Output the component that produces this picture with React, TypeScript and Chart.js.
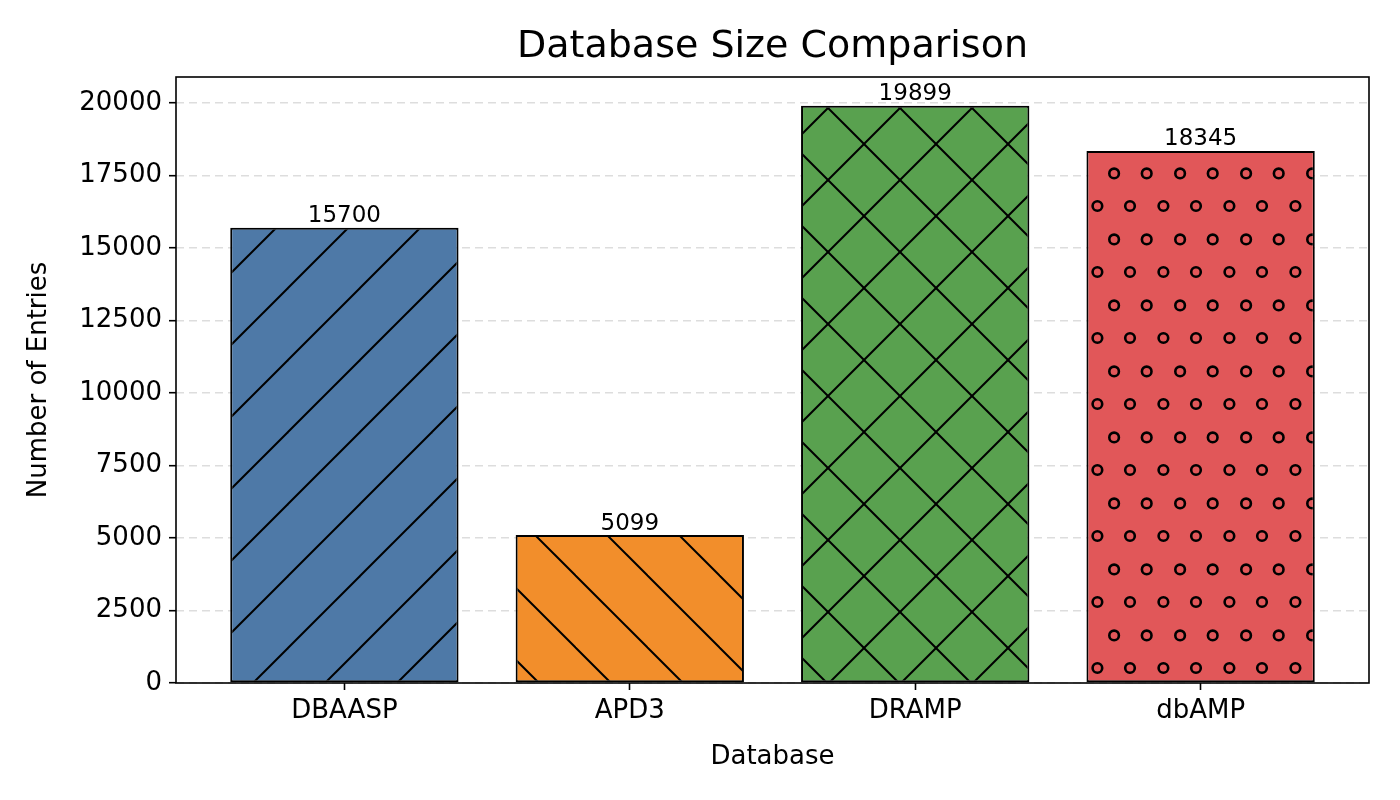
import React, { useEffect, useRef } from "react";
import { Chart, registerables } from "chart.js";

Chart.register(...registerables);

const databases = ["DBAASP", "APD3", "DRAMP", "dbAMP"];
const entries = [15700, 5099, 19899, 18345];
const colors = ["#4e79a7", "#f28e2b", "#59a14f", "#e15759"];
const hatches = ["/", "\\", "x", "o"];
const FONT = "DejaVu Sans, sans-serif";

function makePattern(color: string, hatch: string): CanvasPattern | string {
    const c = document.createElement("canvas");
    const ctx = c.getContext("2d");
    if (!ctx) return color;
    if (hatch === "o") {
        c.width = 33.4 * 2;
        c.height = 66.8;
        const w = c.width, h = c.height;
        ctx.fillStyle = color;
        ctx.fillRect(0, 0, w, h);
        ctx.strokeStyle = "#000";
        ctx.lineWidth = 2.6;
        const pts = [[8, 8], [41.4, 8], [24.7, 41.4], [58.1, 41.4]];
        pts.forEach(([x, y]) => {
            ctx.beginPath();
            ctx.arc(x, y, 4.8, 0, Math.PI * 2);
            ctx.stroke();
        });
        return ctx.createPattern(c, "repeat") || color;
    }
    const s = 72;
    c.width = s;
    c.height = s;
    ctx.fillStyle = color;
    ctx.fillRect(0, 0, s, s);
    ctx.strokeStyle = "#000";
    ctx.lineWidth = 2;
    const line = (x1: number, y1: number, x2: number, y2: number) => {
        ctx.beginPath();
        ctx.moveTo(x1, y1);
        ctx.lineTo(x2, y2);
        ctx.stroke();
    };
    if (hatch === "/" || hatch === "x") {
        line(-s, 2 * s, 2 * s, -s);
        line(-s, s, s, -s);
        line(0, 2 * s, 2 * s, 0);
    }
    if (hatch === "\\" || hatch === "x") {
        line(-s, -s, 2 * s, 2 * s);
        line(0, -s, 2 * s, s);
        line(-s, 0, s, 2 * s);
    }
    return ctx.createPattern(c, "repeat") || color;
}

const App = () => {
    const canvasRef = useRef<HTMLCanvasElement | null>(null);
    const chartRef = useRef<Chart | null>(null);

    useEffect(() => {
        document.body.style.margin = "0";
        const ctx = canvasRef.current?.getContext("2d");
        if (!ctx) return;
        if (chartRef.current) chartRef.current.destroy();

        const extras = {
            id: "extras",
            afterDatasetsDraw(chart: any) {
                const c = chart.ctx;
                const meta = chart.getDatasetMeta(0);
                c.save();
                c.fillStyle = "#000";
                c.font = `23px ${FONT}`;
                c.textAlign = "center";
                c.textBaseline = "bottom";
                meta.data.forEach((bar: any, i: number) => {
                    c.fillText(String(entries[i]), bar.x, bar.y);
                });
                c.restore();
            },
            afterDraw(chart: any) {
                const c = chart.ctx;
                const a = chart.chartArea;
                c.save();
                c.strokeStyle = "#000";
                c.lineWidth = 1.6;
                c.strokeRect(a.left, a.top, a.right - a.left, a.bottom - a.top);
                c.fillStyle = "#000";
                c.font = `38px ${FONT}`;
                c.textAlign = "center";
                c.textBaseline = "middle";
                c.fillText("Database Size Comparison", (a.left + a.right) / 2, 47);
                c.restore();
            },
        };

        chartRef.current = new Chart(ctx, {
            type: "bar",
            data: {
                datasets: [
                    {
                        data: entries.map((v, i) => ({ x: i, y: v })),
                        backgroundColor: colors.map((col, i) => makePattern(col, hatches[i])),
                        borderColor: "#000",
                        borderWidth: 2,
                        borderSkipped: false,
                        barPercentage: 0.8,
                        categoryPercentage: 1,
                    },
                ],
            },
            options: {
                animation: false,
                responsive: false,
                layout: { padding: { top: 77, right: 31, left: 24, bottom: 27 } },
                plugins: { legend: { display: false }, tooltip: { enabled: false } },
                scales: {
                    x: {
                        type: "linear",
                        offset: false,
                        min: -0.59,
                        max: 3.59,
                        afterBuildTicks: (s: any) => {
                            s.ticks = [0, 1, 2, 3].map((v) => ({ value: v }));
                        },
                        afterFit: (s: any) => {
                            s.height = 90;
                        },
                        ticks: {
                            color: "#000",
                            font: { family: FONT, size: 26 },
                            callback: (v: any) => databases[v] ?? "",
                            padding: 6,
                        },
                        grid: { offset: false, color: "transparent", tickColor: "#000", tickLength: 7, tickWidth: 1.6 },
                        border: { display: false },
                        title: {
                            display: true,
                            text: "Database",
                            color: "#000",
                            font: { family: FONT, size: 26 },
                            padding: { top: 4, bottom: 0 },
                        },
                    },
                    y: {
                        min: 0,
                        max: 20894,
                        afterBuildTicks: (s: any) => {
                            const t = [];
                            for (let v = 0; v <= 20000; v += 2500) t.push({ value: v });
                            s.ticks = t;
                        },
                        afterFit: (s: any) => {
                            s.width = 152;
                        },
                        ticks: {
                            color: "#000",
                            font: { family: FONT, size: 26 },
                            padding: 7,
                            callback: (v: any) => String(v),
                        },
                        grid: {
                            color: "#dddddd",
                            lineWidth: 1.4,
                            tickColor: "#000",
                            tickLength: 7,
                            tickWidth: 1.6,
                            tickBorderDash: [],
                        } as any,
                        border: { display: false, dash: [8, 5] } as any,
                        title: {
                            display: true,
                            text: "Number of Entries",
                            color: "#000",
                            font: { family: FONT, size: 26 },
                            padding: { top: 0, bottom: 4 },
                        },
                    },
                },
            },
            plugins: [extras],
        } as any);

        return () => {
            chartRef.current?.destroy();
            chartRef.current = null;
        };
    }, []);

    return (
        <div style={{ width: 1400, height: 800, background: "#fff" }}>
            <canvas ref={canvasRef} width={1400} height={800} />
        </div>
    );
};

export default App;
